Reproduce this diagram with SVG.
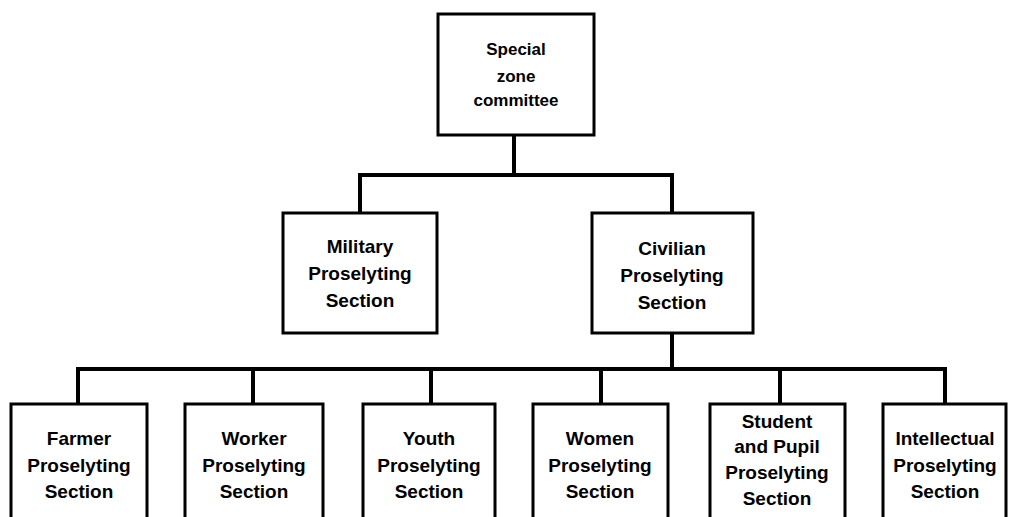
<svg xmlns="http://www.w3.org/2000/svg" width="1009" height="517" viewBox="0 0 1009 517">
<style>
.box{fill:#fff;stroke:#000;stroke-width:3}
.conn{fill:none;stroke:#000;stroke-width:4;stroke-linecap:square}
text{font-family:"Liberation Sans",Arial,sans-serif;font-weight:bold;font-size:19px;text-anchor:middle;fill:#000}
.sm{font-size:17px}
</style>
<rect width="1009" height="517" fill="#fff"/>
<g id="connectors">
<path class="conn" d="M514 135V175M360 213V175H672V213"/>
<path class="conn" d="M672 333V369M78 404V369H945V404M253 369V404M431 369V404M601 369V404M780 369V404"/>
</g>
<g id="special-zone-committee">
<rect class="box" x="438" y="14" width="156" height="121"/>
<text class="sm" x="516" y="55">Special</text>
<text class="sm" x="516" y="82">zone</text>
<text class="sm" x="516" y="106">committee</text>
</g>
<g id="military">
<rect class="box" x="283" y="213" width="154" height="120"/>
<text x="360" y="253">Military</text>
<text x="360" y="280">Proselyting</text>
<text x="360" y="307">Section</text>
</g>
<g id="civilian">
<rect class="box" x="592" y="213" width="161" height="120"/>
<text x="672" y="255">Civilian</text>
<text x="672" y="282">Proselyting</text>
<text x="672" y="309">Section</text>
</g>
<g id="farmer">
<rect class="box" x="11" y="404" width="136" height="130"/>
<text x="79" y="445">Farmer</text>
<text x="79" y="472">Proselyting</text>
<text x="79" y="498">Section</text>
</g>
<g id="worker">
<rect class="box" x="185" y="404" width="138" height="130"/>
<text x="254" y="445">Worker</text>
<text x="254" y="472">Proselyting</text>
<text x="254" y="498">Section</text>
</g>
<g id="youth">
<rect class="box" x="363" y="404" width="132" height="130"/>
<text x="429" y="445">Youth</text>
<text x="429" y="472">Proselyting</text>
<text x="429" y="498">Section</text>
</g>
<g id="women">
<rect class="box" x="533" y="404" width="135" height="130"/>
<text x="600" y="445">Women</text>
<text x="600" y="472">Proselyting</text>
<text x="600" y="498">Section</text>
</g>
<g id="student">
<rect class="box" x="710" y="404" width="135" height="130"/>
<text x="777" y="428">Student</text>
<text x="777" y="453">and Pupil</text>
<text x="777" y="479">Proselyting</text>
<text x="777" y="505">Section</text>
</g>
<g id="intellectual">
<rect class="box" x="883" y="404" width="123" height="130"/>
<text x="945" y="445">Intellectual</text>
<text x="945" y="472">Proselyting</text>
<text x="945" y="498">Section</text>
</g>
</svg>
